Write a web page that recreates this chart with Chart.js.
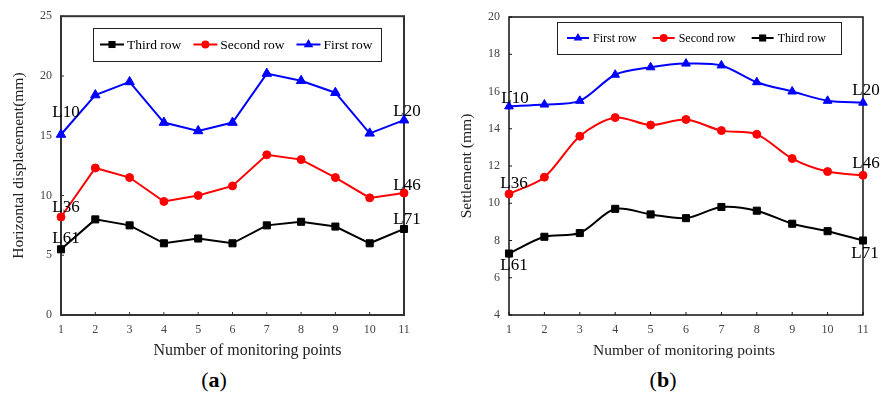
<!DOCTYPE html>
<html>
<head>
<meta charset="utf-8">
<script src="https://cdn.jsdelivr.net/npm/chart.js@4/dist/chart.umd.min.js"></script>
<style>
  body { margin: 0; background: #fff; }
  #wrap { position: relative; width: 880px; height: 401px; overflow: hidden; }
  .pane { position: absolute; top: 0; }
  .cap { position: absolute; top: 367px; font-family: "Liberation Serif", serif; font-size: 22px; line-height: 26px; color: #000; transform: translateX(-50%); }
</style>
</head>
<body>
<div id="wrap">
  <canvas id="chart_a" class="pane" width="440" height="360" style="left:0"></canvas>
  <canvas id="chart_b" class="pane" width="440" height="360" style="left:440px"></canvas>
  <div class="cap" style="left:214px">(<b>a</b>)</div>
  <div class="cap" style="left:663px">(<b>b</b>)</div>
</div>
<script>
// monitoring point numbers along each row
const points = ['1', '2', '3', '4', '5', '6', '7', '8', '9', '10', '11'];

// (a) horizontal displacement, mm
const disp_first  = [15.1, 18.4, 19.5, 16.1, 15.4, 16.1, 20.2, 19.6, 18.6, 15.2, 16.3];
const disp_second = [8.2, 12.3, 11.5, 9.5, 10.0, 10.8, 13.4, 13.0, 11.5, 9.8, 10.2];
const disp_third  = [5.5, 8.0, 7.5, 6.0, 6.4, 6.0, 7.5, 7.8, 7.4, 6.0, 7.2];

// (b) settlement, mm
const settle_first  = [15.2, 15.3, 15.5, 16.9, 17.3, 17.5, 17.4, 16.5, 16.0, 15.5, 15.4];
const settle_second = [10.5, 11.4, 13.6, 14.6, 14.2, 14.5, 13.9, 13.7, 12.4, 11.7, 11.5];
const settle_third  = [7.3, 8.2, 8.4, 9.7, 9.4, 9.2, 9.8, 9.6, 8.9, 8.5, 8.0];

// y axis ranges [min, max, step]
const disp_range = [0, 25, 5];
const settle_range = [4, 20, 2];

// end-point tags: [text, row, point index]
const row_tags = [
    ['L10', 'First row', 0], ['L20', 'First row', 10],
    ['L36', 'Second row', 0], ['L46', 'Second row', 10],
    ['L61', 'Third row', 0], ['L71', 'Third row', 10]
];

const x_title = 'Number of monitoring points';
const serif = "'Liberation Serif', 'Times New Roman', serif";

// same shapes Chart.js uses for its point styles
function marker(ctx, style, x, y, r, color) {
    ctx.fillStyle = color;
    ctx.beginPath();
    if (style === 'rect') {
        const s = r * Math.SQRT1_2;
        ctx.rect(x - s, y - s, 2 * s, 2 * s);
    } else if (style === 'triangle') {
        let rad = 0;
        ctx.moveTo(x + Math.sin(rad) * r, y - Math.cos(rad) * r);
        rad += 2 * Math.PI / 3;
        ctx.lineTo(x + Math.sin(rad) * r, y - Math.cos(rad) * r);
        rad += 2 * Math.PI / 3;
        ctx.lineTo(x + Math.sin(rad) * r, y - Math.cos(rad) * r);
        ctx.closePath();
    } else {
        ctx.arc(x, y, r, 0, Math.PI * 2);
    }
    ctx.fill();
}

// box round the plot with short inward tick marks, plus the x axis title
const framePlugin = {
    id: 'frame',
    beforeDatasetsDraw(chart, args, opts) {
        const {ctx, chartArea: a, scales} = chart;
        ctx.save();
        ctx.strokeStyle = opts.color;
        ctx.lineWidth = opts.width;
        ctx.strokeRect(a.left, a.top, a.right - a.left, a.bottom - a.top);
        ctx.lineWidth = 1;
        ctx.beginPath();
        scales.x.ticks.forEach((t, i) => {
            const x = scales.x.getPixelForTick(i);
            ctx.moveTo(x, a.bottom);
            ctx.lineTo(x, a.bottom - opts.tick);
        });
        scales.y.ticks.forEach((t, i) => {
            const y = scales.y.getPixelForTick(i);
            ctx.moveTo(a.left, y);
            ctx.lineTo(a.left + opts.tick, y);
        });
        ctx.stroke();

        ctx.font = opts.titleFont;
        ctx.fillStyle = '#222';
        ctx.textAlign = 'center';
        ctx.textBaseline = 'middle';
        ctx.fillText(x_title, (a.left + a.right) / 2 + opts.titleDx, a.bottom + opts.titleDy);
        ctx.restore();
    }
};

// legend drawn as a framed single row inside the plot
const boxLegend = {
    id: 'boxLegend',
    afterDatasetsDraw(chart, args, o) {
        const ctx = chart.ctx;
        ctx.save();
        ctx.fillStyle = '#fff';
        ctx.fillRect(o.x, o.y, o.w, o.h);
        ctx.strokeStyle = '#222';
        ctx.lineWidth = 1;
        ctx.strokeRect(o.x + 0.5, o.y + 0.5, o.w, o.h);
        ctx.font = o.font;
        ctx.textBaseline = 'middle';
        let x = o.x + o.pad;
        const y = o.y + o.h / 2;
        chart.data.datasets.forEach(ds => {
            ctx.strokeStyle = ds.borderColor;
            ctx.lineWidth = ds.borderWidth;
            ctx.beginPath();
            ctx.moveTo(x, y);
            ctx.lineTo(x + o.line, y);
            ctx.stroke();
            marker(ctx, ds.pointStyle, x + o.line / 2, y, ds.pointRadius, ds.borderColor);
            x += o.line + o.gap;
            ctx.fillStyle = '#000';
            ctx.fillText(ds.label, x, y + 1);
            x += ctx.measureText(ds.label).width + o.itemGap;
        });
        ctx.restore();
    }
};

// L.. tags next to the first and last points of each row
const tagPlugin = {
    id: 'tags',
    afterDatasetsDraw(chart, args, opts) {
        const ctx = chart.ctx;
        ctx.save();
        ctx.font = opts.font;
        ctx.fillStyle = '#000';
        ctx.textAlign = 'center';
        ctx.textBaseline = 'middle';
        row_tags.forEach(([text, row, idx], k) => {
            const di = chart.data.datasets.findIndex(d => d.label === row);
            const el = chart.getDatasetMeta(di).data[idx];
            const [dx, dy] = opts.offsets[k];
            ctx.fillText(text, el.x + dx, el.y + dy);
        });
        ctx.restore();
    }
};

function row(label, values, color, style, radius, tension) {
    return {
        label: label,
        data: values,
        borderColor: color,
        backgroundColor: color,
        borderWidth: 2,
        pointStyle: style,
        pointRadius: radius,
        pointBackgroundColor: color,
        pointBorderColor: color,
        pointBorderWidth: 1,
        tension: tension,
        clip: false
    };
}

function panel(canvasId, datasets, range, yTitle, s) {
    const config = {
        type: 'line',
        data: { labels: points, datasets: datasets },
        options: {
            responsive: false,
            animation: false,
            layout: { padding: { top: s.top, right: s.right, left: 0, bottom: 0 } },
            plugins: {
                legend: { display: false },
                tooltip: { enabled: false },
                frame: {
                    color: s.frameColor, width: s.frameWidth, tick: 3,
                    titleFont: s.xTitleSize + 'px ' + serif, titleDx: s.xTitleDx, titleDy: 36
                },
                boxLegend: s.legend,
                tags: { font: '17px ' + serif, offsets: s.tagOffsets }
            },
            scales: {
                x: {
                    type: 'category',
                    offset: false,
                    grid: { display: false, drawTicks: false },
                    border: { display: false },
                    ticks: { color: '#444', padding: 8, font: { family: serif, size: 12 }, maxRotation: 0 },
                    afterFit: sc => { sc.height = 45; }
                },
                y: {
                    min: range[0],
                    max: range[1],
                    grid: { display: false, drawTicks: false },
                    border: { display: false },
                    ticks: { stepSize: range[2], color: '#444', padding: 9, font: { family: serif, size: 12 } },
                    title: {
                        display: true,
                        text: yTitle,
                        color: '#222',
                        font: { family: serif, size: 15.5 },
                        padding: { top: s.yTitlePad, bottom: 0 }
                    },
                    afterFit: sc => { sc.width = s.yWidth; }
                }
            }
        },
        plugins: [framePlugin, boxLegend, tagPlugin]
    };
    return new Chart(document.getElementById(canvasId), config);
}

let chart_a = panel('chart_a', [
    row('Third row', disp_third, '#000000', 'rect', 5, 0),
    row('Second row', disp_second, '#ff0000', 'circle', 4, 0),
    row('First row', disp_first, '#0000ff', 'triangle', 5.5, 0)
], disp_range, 'Horizontal displacement(mm)', {
    top: 14, right: 36, yWidth: 61, yTitlePad: 10, xTitleSize: 16, xTitleDx: 15,
    frameColor: '#333', frameWidth: 2,
    legend: { x: 93, y: 28, w: 288, h: 33, pad: 7, line: 24, gap: 3, itemGap: 12, font: '13.5px ' + serif },
    tagOffsets: [[5, -22], [3, -9], [5, -9], [3, -8], [5, -11], [3, -9]]
});

let chart_b = panel('chart_b', [
    row('First row', settle_first, '#0000ff', 'triangle', 5, 0.3),
    row('Second row', settle_second, '#ff0000', 'circle', 4, 0.3),
    row('Third row', settle_third, '#000000', 'rect', 5, 0.3)
], settle_range, 'Settlement (mm)', {
    top: 17, right: 17, yWidth: 69, yTitlePad: 18, xTitleSize: 15.5, xTitleDx: -2,
    frameColor: '#111', frameWidth: 1.5,
    legend: { x: 117, y: 22, w: 284, h: 32, pad: 10, line: 22, gap: 4, itemGap: 16, font: '12px ' + serif },
    tagOffsets: [[6, -8], [3, -12], [5, -10], [3, -12], [5, 12], [2, 13]]
});
</script>
</body>
</html>
